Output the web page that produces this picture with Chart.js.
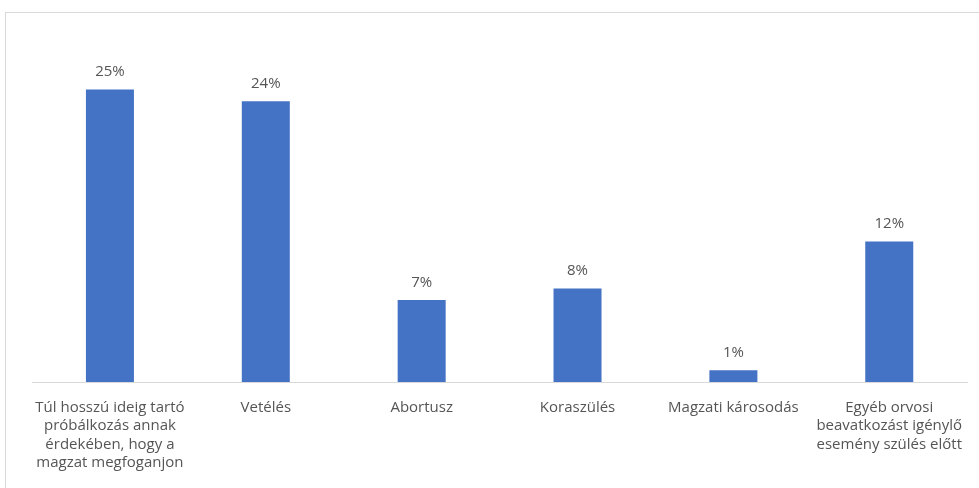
<!DOCTYPE html>
<html>
<head>
<meta charset="utf-8">
<script src="https://cdn.jsdelivr.net/npm/chart.js@4/dist/chart.umd.min.js"></script>
<style>
  html, body { margin: 0; padding: 0; background: #ffffff; }
  #frame {
    position: absolute; left: 5px; top: 12px; width: 974px; height: 476px;
    border-top: 1px solid #d9d9d9; border-left: 1px solid #d9d9d9;
  }
  #wrap { position: absolute; left: 0; top: 0; width: 979px; height: 488px; }
</style>
</head>
<body>
<div id="frame"></div>
<div id="wrap"><canvas id="chart"></canvas></div>
<script>
// Categories (multi-line labels) and their shares in percent
const categories = [
  ["Túl hosszú ideig tartó", "próbálkozás annak", "érdekében, hogy a", "magzat megfoganjon"],
  ["Vetélés"],
  ["Abortusz"],
  ["Koraszülés"],
  ["Magzati károsodás"],
  ["Egyéb orvosi", "beavatkozást igénylő", "esemény szülés előtt"]
];
const shares = [25, 24, 7, 8, 1, 12];

const textColor = "#555555";
const fontFamily = "'Open Sans', 'Liberation Sans', sans-serif";

// Writes the percentage above each bar
const valueLabels = {
  id: "valueLabels",
  afterDatasetsDraw(chart) {
    const ctx = chart.ctx;
    const meta = chart.getDatasetMeta(0);
    ctx.save();
    ctx.fillStyle = textColor;
    ctx.font = "15px " + fontFamily;
    ctx.textAlign = "center";
    ctx.textBaseline = "bottom";
    meta.data.forEach((bar, i) => {
      ctx.fillText(shares[i] + "%", bar.x, bar.y - 10);
    });
    ctx.restore();
  }
};

new Chart(document.getElementById("chart"), {
  type: "bar",
  data: {
    labels: categories,
    datasets: [{
      data: shares,
      backgroundColor: "#4472C4",
      borderWidth: 0,
      categoryPercentage: 1,
      barPercentage: 0.308
    }]
  },
  options: {
    responsive: true,
    maintainAspectRatio: false,
    animation: false,
    layout: { padding: { left: 32, right: 11, top: 31, bottom: 0 } },
    plugins: { legend: { display: false }, tooltip: { enabled: false } },
    scales: {
      x: {
        grid: { display: false, drawTicks: false },
        border: { display: true, color: "#d9d9d9", width: 1 },
        ticks: {
          color: textColor,
          font: { family: fontFamily, size: 15, lineHeight: 1.24 },
          padding: 16,
          maxRotation: 0,
          autoSkip: false
        },
        afterFit(scale) { scale.height = 106; }
      },
      y: {
        display: false,
        min: 0,
        max: 30
      }
    }
  },
  plugins: [valueLabels]
});
</script>
</body>
</html>
